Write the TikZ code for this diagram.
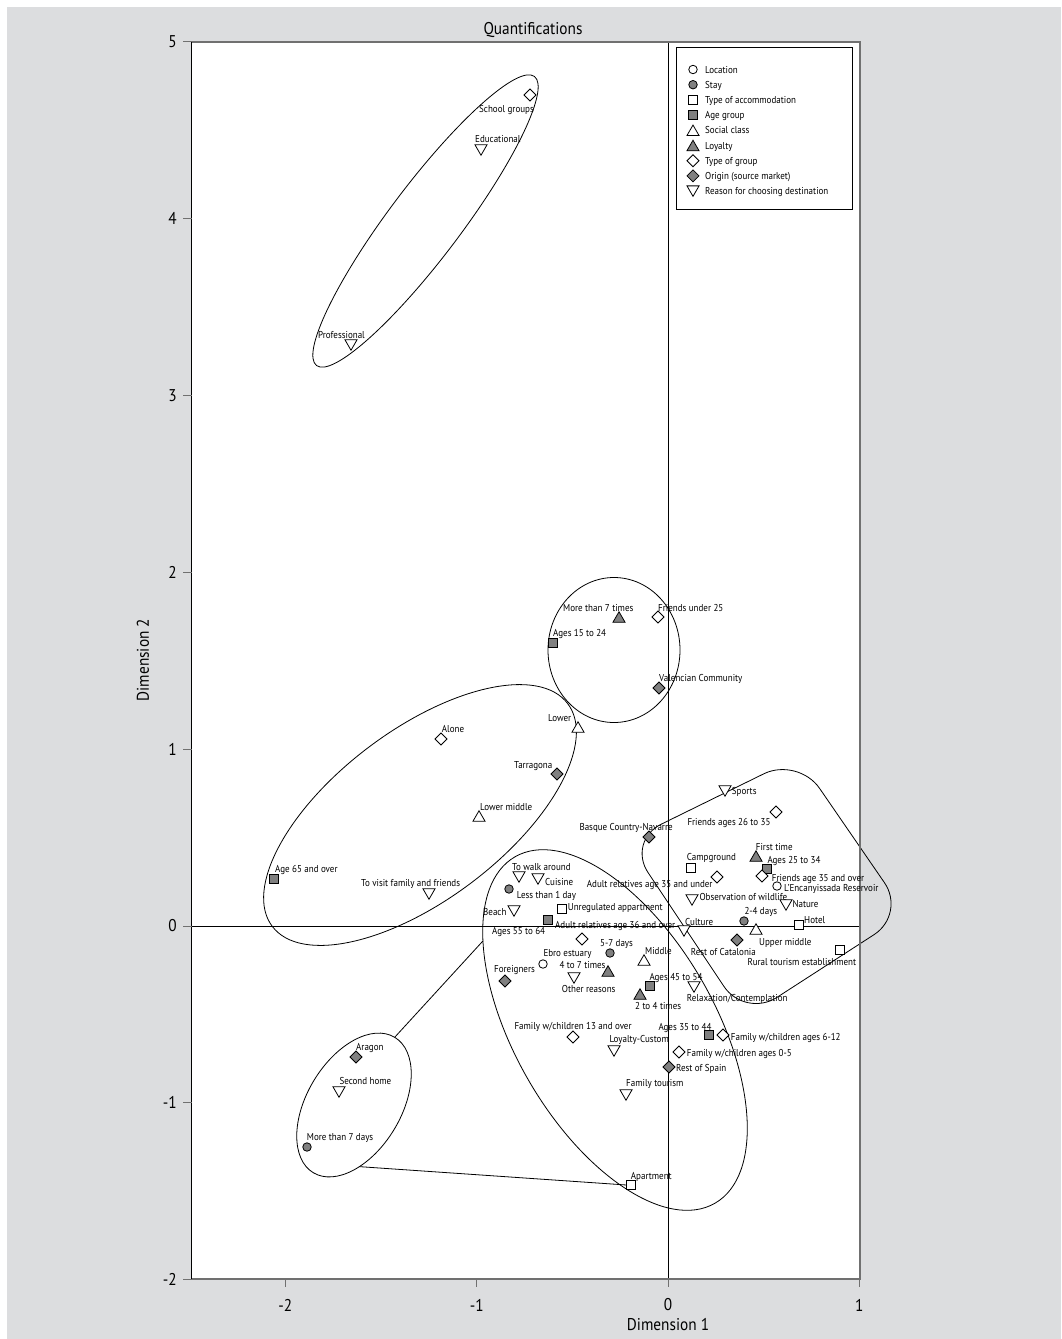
\documentclass[tikz,border=0pt]{standalone}
\usepackage{fontspec}
\setmainfont{PT Sans}[FakeStretch=0.9]
\usetikzlibrary{shapes.geometric}
\definecolor{bgGray}{RGB}{220,221,223}
\definecolor{frameGray}{RGB}{112,112,112}
\definecolor{markGray}{RGB}{128,128,128}
\newcommand\labfont{\fontsize{10}{12}\selectfont}
\newcommand\bigfont{\fontsize{17}{20}\selectfont}
\tikzset{
 mk/.style={draw=black, line width=0.8pt, inner sep=0pt, outer sep=0pt},
 openc/.style={mk, circle, minimum size=8.5pt, fill=white},
 grayc/.style={mk, circle, minimum size=8.5pt, fill=markGray},
 opens/.style={mk, rectangle, minimum size=9pt, fill=white},
 grays/.style={mk, rectangle, minimum size=9pt, fill=markGray},
 opent/.style={mk, regular polygon, regular polygon sides=3, minimum size=14pt, fill=white, yshift=-1.75pt},
 grayt/.style={mk, regular polygon, regular polygon sides=3, minimum size=14pt, fill=markGray, yshift=-1.75pt},
 downt/.style={mk, regular polygon, regular polygon sides=3, shape border rotate=180, minimum size=14pt, fill=white, yshift=1.75pt},
 opend/.style={mk, diamond, minimum size=12pt, fill=white},
 grayd/.style={mk, diamond, minimum size=12pt, fill=markGray},
 lab/.style={anchor=base west, inner sep=0pt, font=\labfont, yshift=-3.5pt},
 ell/.style={draw, ellipse, line width=0.8pt, inner sep=0pt, outer sep=0pt},
 conn/.style={line width=0.8pt},
}
\begin{document}
\begin{tikzpicture}[x=1pt,y=-1pt]
\useasboundingbox (0,0) rectangle (1061,1339);
\fill[white] (0,0) rectangle (1061,1339);
\fill[bgGray] (7,7) rectangle (1061,1339);
\fill[white] (191.7,42) rectangle (859.7,1279);

% group outlines
\node[ell, minimum width=362pt, minimum height=72pt, rotate=53] (E1) at (425.5,221) {};
\node[ell, minimum width=132pt, minimum height=145pt] (E2) at (614,650) {};
\node[ell, minimum width=370pt, minimum height=170pt, rotate=37] (E3) at (420,815) {};
\node[ell, minimum width=400pt, minimum height=200pt, rotate=-60] (E4) at (615,1030) {};
\node[ell, minimum width=158pt, minimum height=94pt, rotate=59] (E5) at (354,1105) {};
\draw[conn, rounded corners=38pt] (712.5,799) -- (798,757) -- (906,914) -- (745,1018) -- (627,841) -- cycle;

% axes through origin
\draw[black, line width=0.9pt] (668,42) -- (668,1279);
\draw[black, line width=0.9pt] (191.7,926) -- (859.7,926);

% frame
\draw[frameGray, line width=1.6pt] (191.7,42) -- (859.7,42) -- (859.7,1279) -- (191.7,1279);
\draw[black, line width=1pt] (191.7,42) -- (191.7,1279);

% ticks
\foreach \v/\xx in {-2/285.4,-1/476.7,0/668,1/859.3}{
  \draw[frameGray, line width=1pt] (\xx,1279) -- (\xx,1287);
  \node[font=\bigfont, inner sep=0pt] (xt\v) at (\xx,1305) {\v};
}
\foreach \v/\yy in {5/41.8,4/218.6,3/395.5,2/572.3,1/749.2,0/926,-1/1102.9,-2/1279}{
  \draw[frameGray, line width=1pt] (183,\yy) -- (191.7,\yy);
  \node[font=\bigfont, inner sep=0pt, anchor=east] (yt\v) at (177,\yy) {\v};
}
\node[font=\bigfont] (xlab) at (668,1325) {Dimension 1};
\node[font=\bigfont, rotate=90] (ylab) at (143,660) {Dimension 2};
\node[font=\bigfont] (title) at (533,30) {Quantifications};

% connectors
\draw[conn] (E5.east) -- (E4.206.7);

% Location
\node[openc] (mEbro) at (543,964) {};
\node[lab] (tEbro) at (543.3,953.3) {Ebro estuary};
\node[openc] (mEnc) at (777,886) {};
\node[lab] (tEnc) at (784,887.7) {L'Encanyissada Reservoir};
% Stay
\node[grayc] (mLt1) at (509,889) {};
\node[lab] (tLt1) at (516.7,895) {Less than 1 day};
\node[grayc] (m57) at (610,953) {};
\node[lab] (t57) at (600,943.3) {5-7 days};
\node[grayc] (m24d) at (744,921) {};
\node[lab] (t24d) at (744.3,910.7) {2-4 days};
\node[grayc] (mMt7d) at (307,1147) {};
\node[lab] (tMt7d) at (306.7,1136.7) {More than 7 days};
% Accommodation
\node[opens] (mCamp) at (691,868) {};
\node[lab] (tCamp) at (686.7,857.3) {Campground};
\node[opens] (mUnr) at (562,909) {};
\node[lab] (tUnr) at (567.7,906.7) {Unregulated appartment};
\node[opens] (mHot) at (799,925) {};
\node[lab] (tHot) at (804,920) {Hotel};
\node[opens] (mRur) at (840,950) {};
\node[lab] (tRur) at (747.3,962.3) {Rural tourism establishment};
\node[opens] (apt) at (631,1185) {};
\node[lab] (tApt) at (630.7,1175.7) {Apartment};
\draw[conn] (E5.216.6) -- (apt.west);
% Age group
\node[grays] (mA1524) at (553,643) {};
\node[lab] (tA1524) at (553,633) {Ages 15 to 24};
\node[grays] (mA65) at (274,879) {};
\node[lab] (tA65) at (275,869) {Age 65 and over};
\node[grays] (mA2534) at (767,869) {};
\node[lab] (tA2534) at (767.3,860) {Ages 25 to 34};
\node[grays] (mA5564) at (548,920) {};
\node[lab] (tA5564) at (492,930.7) {Ages 55 to 64};
\node[grays] (mA4554) at (650,986) {};
\node[lab] (tA4554) at (649.3,976.7) {Ages 45 to 54};
\node[grays] (mA3544) at (709,1035) {};
\node[lab] (tA3544) at (658.3,1026.7) {Ages 35 to 44};
% Social class
\node[opent] (mLow) at (578,727) {};
\node[lab] (tLow) at (548,718) {Lower};
\node[opent] (mLowM) at (479,816) {};
\node[lab] (tLowM) at (480,806.7) {Lower middle};
\node[opent] (mMid) at (644,960) {};
\node[lab] (tMid) at (645,950.7) {Middle};
\node[opent] (mUpM) at (756,929) {};
\node[lab] (tUpM) at (759,941.7) {Upper middle};
% Loyalty
\node[grayt] (mMt7t) at (619,617) {};
\node[lab] (tMt7t) at (563,608) {More than 7 times};
\node[grayt] (mFirst) at (756,856) {};
\node[lab] (tFirst) at (755.7,846.7) {First time};
\node[grayt] (m47t) at (608,971) {};
\node[lab] (t47t) at (559.3,965) {4 to 7 times};
\node[grayt] (m24t) at (640,994) {};
\node[lab] (t24t) at (635,1006) {2 to 4 times};
% Type of group
\node[opend] (mSchool) at (530,95) {};
\node[lab] (tSchool) at (479,109) {School groups};
\node[opend] (mFu25) at (658,617) {};
\node[lab] (tFu25) at (658,608) {Friends under 25};
\node[opend] (mAlone) at (441,739) {};
\node[lab] (tAlone) at (441.7,729) {Alone};
\node[opend] (mF2635) at (776,812) {};
\node[lab] (tF2635) at (687.3,822.3) {Friends ages 26 to 35};
\node[opend] (mAR35) at (717,877) {};
\node[lab] (tAR35) at (586.7,884) {Adult relatives age 35 and under};
\node[opend] (mF35) at (762,876) {};
\node[lab] (tF35) at (771.7,878.3) {Friends age 35 and over};
\node[opend] (mAR36) at (582,939) {};
\node[lab] (tAR36) at (555,925) {Adult relatives age 36 and over};
\node[opend] (mFw13) at (573,1037) {};
\node[lab] (tFw13) at (514.3,1026) {Family w/children 13 and over};
\node[opend] (mFw612) at (723,1035) {};
\node[lab] (tFw612) at (730.7,1036.7) {Family w/children ages 6-12};
\node[opend] (mFw05) at (679,1052) {};
\node[lab] (tFw05) at (686.7,1053.3) {Family w/children ages 0-5};
% Origin
\node[grayd] (mVal) at (659,688) {};
\node[lab] (tVal) at (659,678) {Valencian Community};
\node[grayd] (mTar) at (557,774) {};
\node[lab] (tTar) at (514,765) {Tarragona};
\node[grayd] (mBas) at (649,837) {};
\node[lab] (tBas) at (579.3,826.5) {Basque Country-Navarre};
\node[grayd] (mRoC) at (737,940) {};
\node[lab] (tRoC) at (690.7,951.7) {Rest of Catalonia};
\node[grayd] (mFor) at (505,981) {};
\node[lab] (tFor) at (494,969.3) {Foreigners};
\node[grayd] (mRoS) at (669,1067) {};
\node[lab] (tRoS) at (676,1067.7) {Rest of Spain};
\node[grayd] (mAra) at (356,1057) {};
\node[lab] (tAra) at (356,1046.7) {Aragon};
% Reason
\node[downt] (mEdu) at (481,150) {};
\node[lab] (tEdu) at (475,139) {Educational};
\node[downt] (mPro) at (351,345) {};
\node[lab] (tPro) at (318,335) {Professional};
\node[downt] (mSpo) at (725,791) {};
\node[lab] (tSpo) at (731.7,790.7) {Sports};
\node[downt] (mWalk) at (519,877) {};
\node[lab] (tWalk) at (512,866.7) {To walk around};
\node[downt] (mCui) at (538,879) {};
\node[lab] (tCui) at (545,881.7) {Cuisine};
\node[downt] (mVis) at (429,894) {};
\node[lab] (tVis) at (361,883) {To visit family and friends};
\node[downt] (mBea) at (514,911) {};
\node[lab] (tBea) at (483,911.7) {Beach};
\node[downt] (mObs) at (692,900) {};
\node[lab] (tObs) at (699.3,896.7) {Observation of wildlife};
\node[downt] (mNat) at (786,905) {};
\node[lab] (tNat) at (792.3,904.3) {Nature};
\node[downt] (mCul) at (684,931) {};
\node[lab] (tCul) at (685,921.7) {Culture};
\node[downt] (mOth) at (574,978) {};
\node[lab] (tOth) at (561.7,989.3) {Other reasons};
\node[downt] (mRel) at (694,987) {};
\node[lab] (tRel) at (686.7,997.7) {Relaxation/Contemplation};
\node[downt] (mLoy) at (614,1051) {};
\node[lab] (tLoy) at (609.3,1039.3) {Loyalty-Custom};
\node[downt] (mFam) at (626,1095) {};
\node[lab] (tFam) at (626,1083.3) {Family tourism};
\node[downt] (mSec) at (339,1092) {};
\node[lab] (tSec) at (339.3,1081) {Second home};

% legend
\draw[black, line width=0.9pt] (676,47) rectangle (852.7,209);
\node[openc] (k1) at (693,69.5) {};   \node[lab] (kt1) at (705,69.5) {Location};
\node[grayc] (k2) at (693,84.7) {};   \node[lab] (kt2) at (705,84.7) {Stay};
\node[opens] (k3) at (693,99.9) {};   \node[lab] (kt3) at (705,99.9) {Type of accommodation};
\node[grays] (k4) at (693,115.1) {};  \node[lab] (kt4) at (705,115.1) {Age group};
\node[opent] (k5) at (693,130.3) {};  \node[lab] (kt5) at (705,130.3) {Social class};
\node[grayt] (k6) at (693,145.5) {};  \node[lab] (kt6) at (705,145.5) {Loyalty};
\node[opend] (k7) at (693,160.7) {};  \node[lab] (kt7) at (705,160.7) {Type of group};
\node[grayd] (k8) at (693,175.9) {};  \node[lab] (kt8) at (705,175.9) {Origin (source market)};
\node[downt] (k9) at (693,191.1) {};  \node[lab] (kt9) at (705,191.1) {Reason for choosing destination};
\end{tikzpicture}
\end{document}
